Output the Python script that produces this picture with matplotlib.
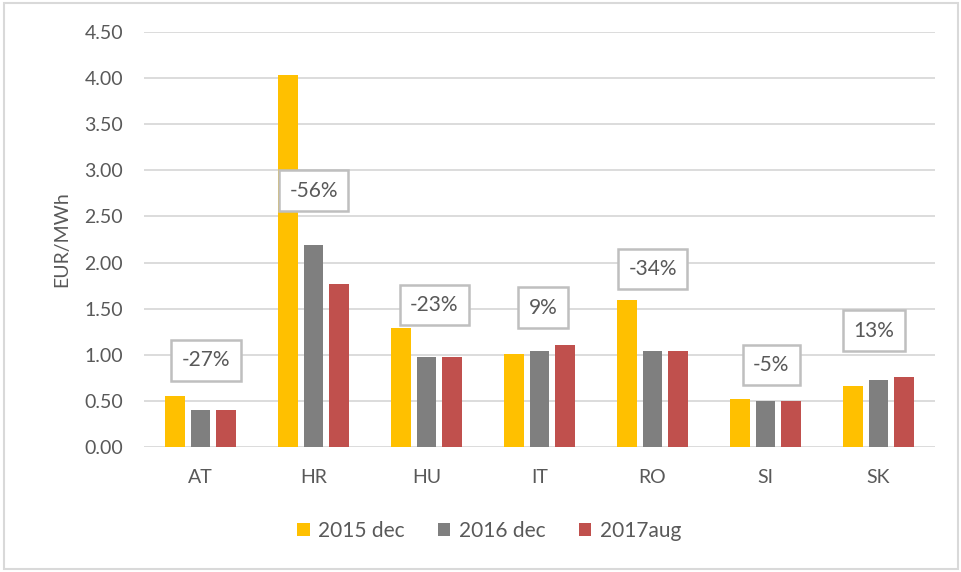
import numpy as np
import matplotlib.pyplot as plt
from matplotlib.patches import Rectangle

plt.rcParams['font.family'] = ['Lato', 'DejaVu Sans']

countries = ["AT", "HR", "HU", "IT", "RO", "SI", "SK"]
series_names = ["2015 dec", "2016 dec", "2017aug"]
v2015 = [0.55, 4.03, 1.29, 1.01, 1.59, 0.52, 0.66]
v2016 = [0.40, 2.19, 0.98, 1.04, 1.04, 0.50, 0.73]
v2017 = [0.40, 1.765, 0.98, 1.11, 1.04, 0.50, 0.76]
changes = ["-27%", "-56%", "-23%", "9%", "-34%", "-5%", "13%"]

# where the change boxes sit (y in data units)
label_y = [0.94, 2.78, 1.54, 1.51, 1.93, 0.89, 1.26]
label_dx = [0.05, 0.0, 0.07, 0.03, 0.0, 0.05, -0.04]

colors = ["#FFC000", "#7F7F7F", "#C0504D"]
txt = "#595959"
grid = "#D9D9D9"

fig = plt.figure(figsize=(9.62, 5.72), dpi=100)
ax = fig.add_axes([0.1497, 0.2185, 0.972 - 0.1497, 0.944 - 0.2185])

x = np.arange(len(countries))
w = 0.175
step = 0.225
for i, vals in enumerate([v2015, v2016, v2017]):
    ax.bar(x + (i - 1) * step, vals, w, color=colors[i], label=series_names[i], zorder=3)

for i, lab in enumerate(changes):
    ax.text(x[i] + label_dx[i], label_y[i], lab, ha="center", va="center", fontsize=15, color=txt,
            zorder=5, bbox=dict(boxstyle="square,pad=0.5", fc="white", ec="#BFBFBF", lw=1.8))

ax.set_ylim(0, 4.5)
ax.set_xlim(-0.5, len(countries) - 0.5)
ax.set_yticks(np.arange(0, 4.51, 0.5))
ax.set_yticklabels([f"{t:.2f}" for t in np.arange(0, 4.51, 0.5)])
ax.set_xticks(x)
ax.set_xticklabels(countries)
ax.yaxis.grid(True, color=grid, lw=1.3, zorder=0)
ax.set_axisbelow(True)
for s in ax.spines.values():
    s.set_visible(False)
ax.tick_params(axis="both", length=0, labelsize=14, colors=txt)
ax.tick_params(axis="x", pad=16)
ax.tick_params(axis="y", pad=15)
ax.set_ylabel("EUR/MWh", fontsize=14, color=txt, labelpad=10)

ax.legend(loc="center", bbox_to_anchor=(489 / 962, 1 - 531 / 572),
          bbox_transform=fig.transFigure, ncol=3, frameon=False, fontsize=15,
          labelcolor=txt, handlelength=0.6, handleheight=0.6, handletextpad=0.4,
          columnspacing=1.6)

fig.patches.append(Rectangle((0.004, 0.006), 0.992, 0.988, transform=fig.transFigure,
                             fill=False, ec=grid, lw=1.5))

fig.savefig("out.png", dpi=100)
